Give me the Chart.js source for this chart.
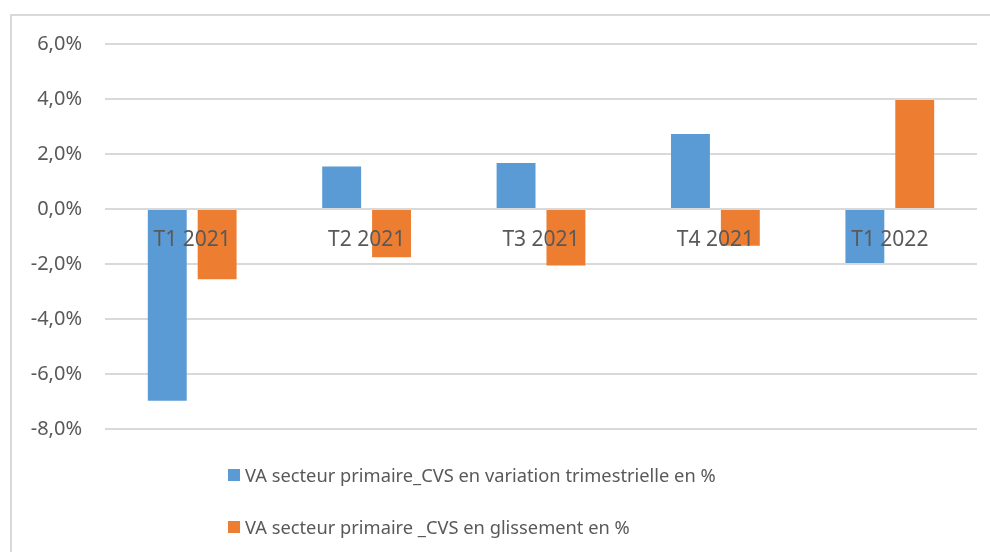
<!DOCTYPE html>
<html>
<head>
<meta charset="utf-8">
<script src="https://cdn.jsdelivr.net/npm/chart.js@4/dist/chart.umd.min.js"></script>
<style>
  html, body { margin:0; padding:0; background:#fff; overflow:hidden; }
  #frame { position:absolute; left:10px; top:14px; width:1000px; height:600px; border-top:2px solid #d9d9d9; border-left:2px solid #d9d9d9; }
  #wrap { position:absolute; left:0; top:0; width:990px; height:552px; }
  #legend { position:absolute; left:228px; top:462px; font-family:"Noto Sans", sans-serif; font-size:18.3px; color:#595959; }
  #legend .item { height:26px; line-height:26px; margin-bottom:26px; white-space:nowrap; display:flex; align-items:center; }
  #legend .box { width:12px; height:12px; margin-right:5px; display:inline-block; }
</style>
</head>
<body>
<div id="frame"></div>
<div id="wrap"><canvas id="chart" width="990" height="552"></canvas></div>
<div id="legend"></div>
<script>
// quarters on the x axis
const categories = ['T1 2021', 'T2 2021', 'T3 2021', 'T4 2021', 'T1 2022'];
// VA secteur primaire, values in %
const variationTrim = [-6.97, 1.55, 1.67, 2.73, -1.96];
const glissement = [-2.55, -1.75, -2.05, -1.34, 3.96];
const seriesNames = [
  'VA secteur primaire_CVS en variation trimestrielle en %',
  'VA secteur primaire _CVS en glissement en %'
];
const seriesColors = ['#5b9bd5', '#ed7d31'];

const fmt = v => v.toFixed(1).replace('.', ',') + '%';
const txt = '#595959';
const font = { family: '"Noto Sans", sans-serif', size: 20 };

const chart = new Chart(document.getElementById('chart').getContext('2d'), {
  type: 'bar',
  data: {
    labels: categories,
    datasets: [
      { label: seriesNames[0], data: variationTrim, backgroundColor: seriesColors[0] },
      { label: seriesNames[1], data: glissement, backgroundColor: seriesColors[1] }
    ]
  },
  options: {
    responsive: false,
    animation: false,
    categoryPercentage: 0.572,
    barPercentage: 0.78,
    layout: { padding: { left: 0, top: 44, right: 13, bottom: 123 } },
    plugins: { legend: { display: false }, tooltip: { enabled: false } },
    scales: {
      x: {
        position: { y: 0 },
        grid: { display: false, drawTicks: false, tickLength: 0 },
        border: { display: false },
        // z above 0 so the labels sit on top of the bars
        ticks: { z: 1, color: txt, font: { ...font, size: 21 }, padding: 18, maxRotation: 0 }
      },
      y: {
        min: -8, max: 6,
        afterFit: s => { s.width = 105; },
        grid: { color: '#d9d9d9', lineWidth: 2, drawTicks: false },
        border: { display: false },
        ticks: { stepSize: 2, color: txt, font, padding: 23, callback: v => fmt(v) }
      }
    }
  }
});

// legend, one entry per row
const legend = document.getElementById('legend');
chart.data.datasets.forEach(ds => {
  legend.innerHTML += `<div class="item"><span class="box" style="background:${ds.backgroundColor}"></span><span>${ds.label}</span></div>`;
});
</script>
</body>
</html>
